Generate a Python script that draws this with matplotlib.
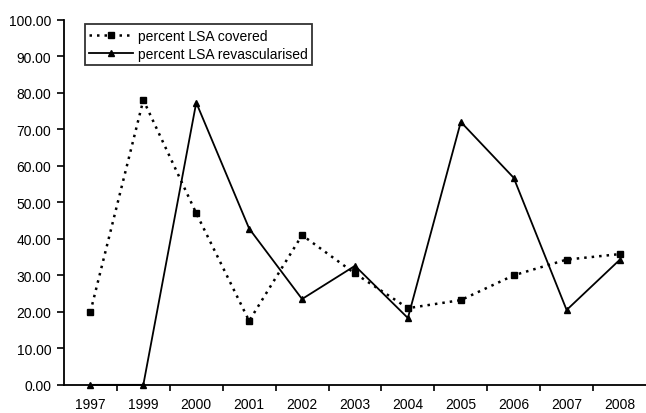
import matplotlib.pyplot as plt
import numpy as np

plt.rcParams['font.family'] = ['Liberation Sans Narrow', 'Liberation Sans', 'DejaVu Sans']

years = ["1997", "1999", "2000", "2001", "2002", "2003", "2004", "2005", "2006", "2007", "2008"]
covered = [20.0, 78.0, 47.0, 17.5, 41.0, 30.5, 21.0, 23.2, 30.0, 34.3, 35.8]
revasc = [0.0, 0.0, 77.3, 42.8, 23.5, 32.6, 18.3, 72.0, 56.7, 20.5, 34.2]

fig = plt.figure(figsize=(6.46, 4.14), dpi=100)
ax = fig.add_axes([0.099, 0.068, 0.901, 0.882])

x = np.arange(len(years))
ax.plot(x, covered, color="black", linestyle=(0, (1, 2)), linewidth=1.8,
        marker="s", markersize=5, label="percent LSA covered", clip_on=False)
ax.plot(x, revasc, color="black", linestyle="-", linewidth=1.3,
        marker="^", markersize=5, label="percent LSA revascularised", clip_on=False)

ax.set_xlim(-0.5, len(years) - 0.5)
ax.set_ylim(0, 100)
ax.set_yticks(np.arange(0, 101, 10))
ax.set_yticklabels([f"{v:.2f}" for v in np.arange(0, 101, 10)])
ax.set_xticks(x)
ax.set_xticklabels(years)
ax.set_xticks(np.arange(0.5, len(years) - 1, 1), minor=True)
ax.tick_params(axis="x", which="major", length=0, pad=9, labelsize=10)
ax.tick_params(axis="x", which="minor", length=4, direction="out", width=1.2)
ax.tick_params(axis="y", length=5, direction="out", width=1.2, pad=4, labelsize=10)

for s in ["top", "right"]:
    ax.spines[s].set_visible(False)
for s in ["left", "bottom"]:
    ax.spines[s].set_linewidth(1.3)

leg = ax.legend(loc="upper left", bbox_to_anchor=(0.024, 1.006), frameon=True,
                fancybox=False, edgecolor="black", fontsize=10, handlelength=3.2,
                borderpad=0.3, labelspacing=0.3, handletextpad=0.3)
leg.get_frame().set_linewidth(1.3)

fig.savefig("out.png", dpi=100)
